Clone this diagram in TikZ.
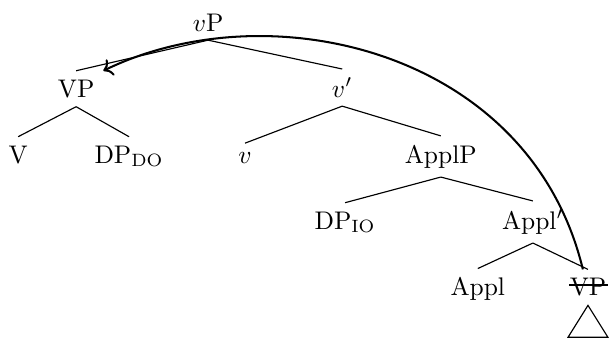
\documentclass[tikz,border=0pt]{standalone}
\usetikzlibrary{arrows.meta}

\begin{document}
\begin{tikzpicture}[
  lab/.style={anchor=base, inner sep=3.33pt},
  br/.style={line width=0.45pt},
  mv/.style={->, thick},
]
  \useasboundingbox (0,0) rectangle (8.4,-4.759);

  \def\yA{-0.43}   % vP
  \def\yB{-1.34}   % VP, v'
  \def\yC{-2.25}   % V, DP, v, ApplP
  \def\yD{-3.16}   % DP, Appl'
  \def\yE{-4.08}   % Appl, VP (copy)

  % --- Labels ---
  \node[lab] (vp)    at (2.87,\yA) {$v$P};
  \node[lab] (VP)    at (1.05,\yB) {VP};
  \node[lab] (vbar)  at (4.72,\yB) {$v'$};
  \node[lab] (V)     at (0.25,\yC) {V};
  \node[lab] (dpdo)  at (1.78,\yC) {DP$_{\mathrm{DO}}$};
  \node[lab] (v)     at (3.38,\yC) {$v$};
  \node[lab] (applp) at (6.08,\yC) {ApplP};
  \node[lab] (dpio)  at (4.76,\yD) {DP$_{\mathrm{IO}}$};
  \node[lab] (applb) at (7.35,\yD) {Appl$'$};
  \node[lab] (appl)  at (6.59,\yE) {Appl};
  \node[lab] (VPt)   at (8.11,\yE) {VP};

  % strike through the copy
  \draw[br] ([shift={(-0.26,0.15)}]VPt.base) -- ([shift={(0.27,0.15)}]VPt.base);

  % --- Branches ---
  \draw[br] (vp.south) -- (VP.north);
  \draw[br] (vp.south) -- (vbar.north);
  \draw[br] (VP.south) -- (V.north);
  \draw[br] (VP.south) -- (dpdo.north);
  \draw[br] (vbar.south) -- (v.north);
  \draw[br] (vbar.south) -- (applp.north);
  \draw[br] (applp.south) -- (dpio.north);
  \draw[br] (applp.south) -- (applb.north);
  \draw[br] (applb.south) -- (appl.north);
  \draw[br] (applb.south) -- (VPt.north);

  % roof under the copy
  \draw[br] (VPt.south) -- ++(-0.275,-0.44) -- ++(0.55,0) -- cycle;

  % --- Movement ---
  \draw[mv] ([xshift=-2pt]VPt.north)
    .. controls (7.31,-0.69) and (3.72,0.14) .. (VP.north east);

\end{tikzpicture}
\end{document}
